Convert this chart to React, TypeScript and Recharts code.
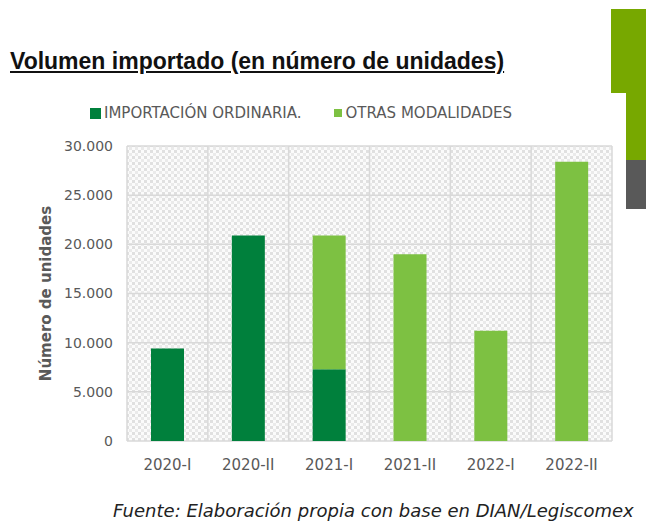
import React from 'react';
import { BarChart, Bar, XAxis, YAxis, CartesianGrid } from 'recharts';

const categories = ['2020-I', '2020-II', '2021-I', '2021-II', '2022-I', '2022-II'];
const ordinaria = [9400, 20900, 7300, 0, 0, 0];
const otras = [0, 0, 13600, 19000, 11200, 28400];
const yTicks = [0, 5000, 10000, 15000, 20000, 25000, 30000];
const seriesNames = ['IMPORTACIÓN ORDINARIA.', 'OTRAS MODALIDADES'];

const data = categories.map((c, i) => ({ name: c, ord: ordinaria[i], otr: otras[i] }));

const DARK = '#00803C';
const LIGHT = '#7DC142';
const GRAY = '#595959';
const FONT = '"DejaVu Sans", sans-serif';

const fmt = (v: number) => v.toLocaleString('de-DE');

export default function App() {
  return (
    <div style={{ position: 'absolute', left: 0, top: 0, width: 646, height: 521, background: '#fff', overflow: 'hidden' }}>
      <div style={{ position: 'absolute', left: 611, top: 9, width: 35, height: 84, background: '#77A800' }} />
      <div style={{ position: 'absolute', left: 626, top: 92, width: 20, height: 68, background: '#77A800' }} />
      <div style={{ position: 'absolute', left: 626, top: 160, width: 20, height: 49, background: '#595959' }} />
      <div style={{ position: 'absolute', left: 10, top: 48, fontFamily: '"Liberation Sans", Arial, sans-serif', fontWeight: 'bold', fontSize: 23, color: '#111', textDecoration: 'underline', whiteSpace: 'nowrap' }}>
        Volumen importado (en número de unidades)
      </div>
      <div style={{ position: 'absolute', left: 90, top: 104, display: 'flex', fontFamily: FONT, fontSize: 15, color: GRAY, whiteSpace: 'nowrap', lineHeight: '18px' }}>
        <span style={{ display: 'flex', alignItems: 'center', marginRight: 32 }}>
          <span style={{ width: 11, height: 11, background: DARK, display: 'inline-block', marginRight: 3 }} />
          {seriesNames[0]}
        </span>
        <span style={{ display: 'flex', alignItems: 'center' }}>
          <span style={{ width: 8, height: 8, background: LIGHT, display: 'inline-block', marginRight: 4 }} />
          {seriesNames[1]}
        </span>
      </div>
      <div style={{ position: 'absolute', left: 113, top: 500, fontFamily: FONT, fontStyle: 'italic', fontSize: 18, color: '#222', whiteSpace: 'nowrap' }}>
        Fuente: Elaboración propia con base en DIAN/Legiscomex
      </div>
      <div style={{ position: 'absolute', left: 0, top: 0 }}>
        <BarChart width={646} height={521} data={data} margin={{ top: 146, right: 34, bottom: 50, left: 0 }}>
          <defs>
            <pattern id="chk" x="0" y="0" width="6" height="6" patternUnits="userSpaceOnUse">
              <rect x="0" y="0" width="6" height="6" fill="#fbfbfb" />
              <rect x="0" y="0" width="3" height="3" fill="#e0e0e0" />
              <rect x="3" y="3" width="3" height="3" fill="#eaeaea" />
            </pattern>
          </defs>
          <CartesianGrid
            fill="url(#chk)"
            stroke="#d9d9d9"
            strokeWidth={1.5}
            verticalCoordinatesGenerator={({ offset }: any) => {
              const n = categories.length;
              return Array.from({ length: n + 1 }, (_, i) => offset.left + (offset.width * i) / n);
            }}
          />
          <XAxis dataKey="name" height={30} axisLine={false} tickLine={false} tickMargin={12}
            tick={{ fill: GRAY, fontSize: 15, fontFamily: FONT }} />
          <YAxis width={127} domain={[0, 30000]} ticks={yTicks} tickFormatter={fmt}
            axisLine={false} tickLine={false} tickSize={6} tickMargin={8}
            tick={{ fill: GRAY, fontSize: 14, fontFamily: FONT }}
            label={{ value: 'Número de unidades', angle: -90, position: 'insideLeft', offset: 46, style: { fill: GRAY, fontSize: 15, fontWeight: 'bold', fontFamily: FONT, textAnchor: 'middle' } }} />
          <Bar dataKey="ord" stackId="a" fill={DARK} barSize={33} isAnimationActive={false} />
          <Bar dataKey="otr" stackId="a" fill={LIGHT} barSize={33} isAnimationActive={false} />
        </BarChart>
      </div>
    </div>
  );
}
